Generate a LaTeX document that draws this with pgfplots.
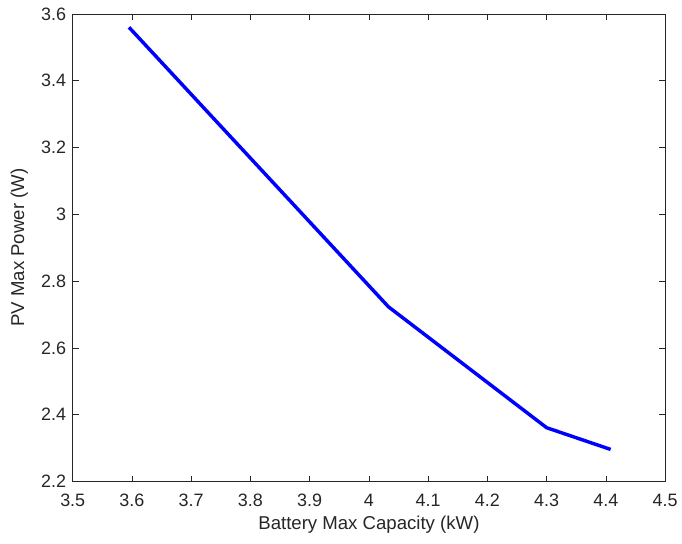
\documentclass[border=0pt]{standalone}
\usepackage{fontspec}
\setmainfont{Liberation Sans}
\usepackage{pgfplots}
\pgfplotsset{compat=1.18}
\definecolor{axgray}{rgb}{0.15,0.15,0.15}
\begin{document}
\begin{tikzpicture}
\begin{axis}[
    scale only axis,
    width=446pt, height=352pt,
    xmin=3.5, xmax=4.5,
    ymin=2.2, ymax=3.6,
    xtick={3.5,3.6,...,4.5},
    ytick={2.2,2.4,...,3.6},
    xticklabels={3.5,3.6,3.7,3.8,3.9,4,4.1,4.2,4.3,4.4,4.5},
    yticklabels={2.2,2.4,2.6,2.8,3,3.2,3.4,3.6},
    tick align=inside,
    major tick length=4.5pt,
    axis line style={axgray, line width=0.5pt},
    tick style={axgray, line width=0.5pt},
    tick label style={font=\fontsize{13.5}{15}\selectfont, text=axgray},
    xticklabel style={yshift=-6pt},
    yticklabel style={xshift=-1.5pt},
    label style={font=\fontsize{14}{16}\selectfont, text=axgray},
    xlabel={Battery Max Capacity (kW)},
    ylabel={PV Max Power (W)},
    ylabel style={yshift=3pt},
    clip=false,
  ]
  \addplot[blue, line width=2.6pt] coordinates {
    (3.595, 3.560)
    (4.033, 2.723)
    (4.300, 2.361)
    (4.408, 2.296)
  };
  % fix the page to the reference's margins
  \path ([xshift=-54.75pt,yshift=-46.5pt]rel axis cs:0,0)
    rectangle ([xshift=10.5pt,yshift=10.5pt]rel axis cs:1,1);
\end{axis}
\end{tikzpicture}
\end{document}
